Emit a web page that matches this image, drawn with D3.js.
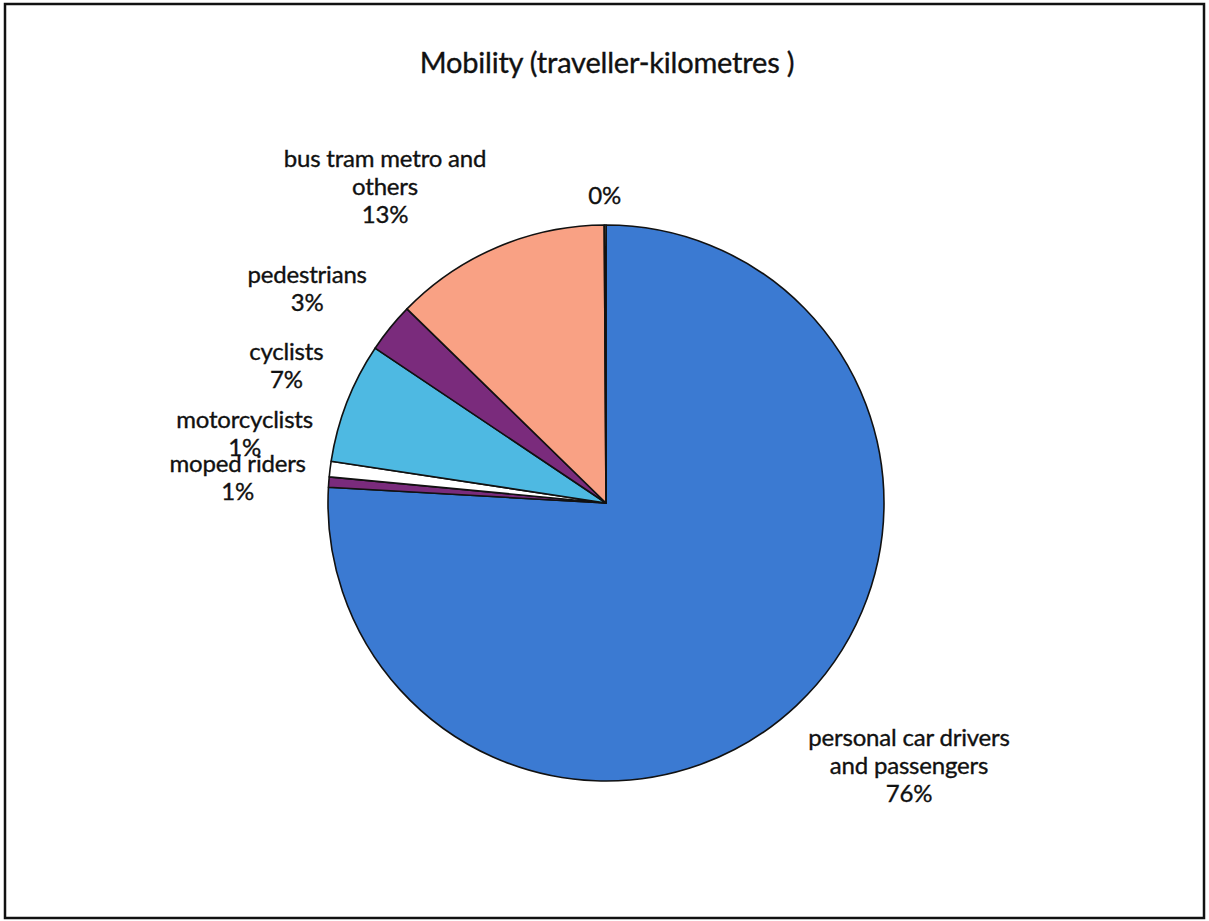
<!DOCTYPE html>
<html>
<head>
<meta charset="utf-8">
<script src="https://cdn.jsdelivr.net/npm/d3@7"></script>
<style>
  html, body { margin: 0; padding: 0; background: #fff; }
  svg text { font-family: Lato, "Open Sans", sans-serif; fill: #111; stroke: #111; stroke-width: 0.35px; letter-spacing: -0.2px; }
</style>
</head>
<body>
<svg id="chart" width="1209" height="921"></svg>
<script>
// Share of traveller-kilometres by mode (percent), clockwise from 12 o'clock
const categories = [
  "personal car drivers and passengers",
  "moped riders",
  "motorcyclists",
  "cyclists",
  "pedestrians",
  "bus tram metro and others",
  "others"
];
const shares = [75.9, 0.6, 0.9, 7.0, 2.9, 12.6, 0.1];
const labelLines = [
  ["personal car drivers", "and passengers"],
  ["moped riders"],
  ["motorcyclists"],
  ["cyclists"],
  ["pedestrians"],
  ["bus tram metro and", "others"],
  []
];
const colors = ["#3b7ad2", "#7a2b7c", "#ffffff", "#4eb9e2", "#7a2b7c", "#f9a184", "#fff2b0"];
const title = "Mobility (traveller-kilometres )";

// Label anchors relative to the pie centre, in radius units (first baseline)
const labelAnchor = [
  [1.09, 0.875],
  [-1.325, -0.11],
  [-1.30, -0.27],
  [-1.15, -0.515],
  [-1.075, -0.79],
  [-0.795, -1.21],
  [-0.005, -1.075]
];

const cx = 606, cy = 503, R = 278;
const lineH = 28;

const svg = d3.select("#chart");

// outer frame
svg.append("rect")
  .attr("x", 5).attr("y", 4)
  .attr("width", 1199).attr("height", 914)
  .attr("fill", "none").attr("stroke", "#111").attr("stroke-width", 2.5);

svg.append("text")
  .attr("x", 607).attr("y", 73)
  .attr("text-anchor", "middle")
  .attr("font-size", 29)
  .text(title);

const data = categories.map((c, i) => ({ name: c, value: shares[i], i }));

const pie = d3.pie().sort(null).value(d => d.value);
const arc = d3.arc().innerRadius(0).outerRadius(R);
const arcs = pie(data);

const g = svg.append("g").attr("transform", `translate(${cx},${cy})`);

g.selectAll("path.slice")
  .data(arcs)
  .join("path")
  .attr("class", "slice")
  .attr("d", arc)
  .attr("fill", d => colors[d.data.i])
  .attr("stroke", "#111")
  .attr("stroke-width", 1.6)
  .attr("stroke-linejoin", "round");

const fmt = v => d3.format(".0f")(v) + "%";

const labels = g.selectAll("text.lbl")
  .data(arcs)
  .join("text")
  .attr("class", "lbl")
  .attr("text-anchor", "middle")
  .attr("font-size", 24)
  .attr("transform", d => {
    const a = labelAnchor[d.data.i];
    return `translate(${a[0] * R},${a[1] * R})`;
  });

labels.each(function(d) {
  const t = d3.select(this);
  const lines = labelLines[d.data.i].concat([fmt(d.data.value)]);
  lines.forEach((ln, k) => {
    t.append("tspan").attr("x", 0).attr("y", k * lineH).text(ln);
  });
});
</script>
</body>
</html>
